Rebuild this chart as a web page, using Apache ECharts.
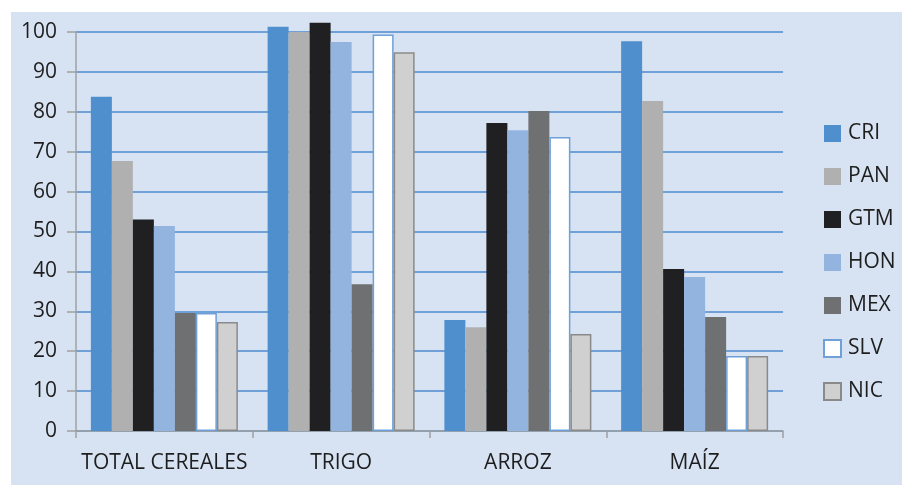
<!DOCTYPE html>
<html>
<head>
<meta charset="utf-8">
<script src="https://cdn.jsdelivr.net/npm/echarts@6/dist/echarts.min.js"></script>
<style>
  html, body { margin: 0; padding: 0; background: #fff; }
  #main { width: 902px; height: 485px; }
</style>
</head>
<body>
<div id="main"></div>
<script>
    // categorias y series
    var categories = ['TOTAL CEREALES', 'TRIGO', 'ARROZ', 'MAÍZ'];
    var countries = ['CRI', 'PAN', 'GTM', 'HON', 'MEX', 'SLV', 'NIC'];
    var cri = [83.8, 101.3, 27.8, 97.7];
    var pan = [67.7, 100.0, 26.0, 82.7];
    var gtm = [53.0, 102.3, 77.2, 40.6];
    var hon = [51.4, 97.5, 75.4, 38.6];
    var mex = [29.6, 36.8, 80.2, 28.6];
    var slv = [29.6, 99.4, 73.7, 18.8];
    var nic = [27.3, 94.9, 24.3, 18.8];
    var yTicks = [0, 10, 20, 30, 40, 50, 60, 70, 80, 90, 100];

    var values = [cri, pan, gtm, hon, mex, slv, nic];
    var styles = [
        { color: '#4f8fcd' },
        { color: '#b0b0b0' },
        { color: '#202022' },
        { color: '#93b4df' },
        { color: '#6f7072' },
        { color: '#ffffff', borderColor: '#6fa0d8', borderWidth: 1.5 },
        { color: '#d0d0d0', borderColor: '#8a8a8a', borderWidth: 1.5 }
    ];

    var chart = echarts.init(document.getElementById('main'));

    var series = countries.map(function (name, i) {
        return {
            name: name,
            type: 'bar',
            data: values[i],
            barWidth: 21,
            barGap: '0%',
            clip: false,
            itemStyle: styles[i]
        };
    });

    var option = {
        animation: false,
        textStyle: { fontFamily: 'Open Sans' },
        graphic: [{
            type: 'rect',
            z: -10,
            shape: { x: 11, y: 12, width: 891, height: 473 },
            style: { fill: '#d7e3f2' }
        }],
        grid: { left: 76, top: 32, right: 119, bottom: 54 },
        legend: {
            orient: 'vertical',
            left: 823,
            top: 123,
            padding: 0,
            itemWidth: 17,
            itemHeight: 17,
            itemGap: 22,
            icon: 'rect',
            data: countries,
            textStyle: { fontSize: 21, color: '#1e1e1e', lineHeight: 20, padding: [0, 0, 0, 2] }
        },
        xAxis: {
            type: 'category',
            data: categories,
            axisLine: { lineStyle: { color: '#a0a0a0', width: 1.5 } },
            axisTick: { show: true, length: 7, lineStyle: { color: '#a0a0a0', width: 1.5 } },
            axisLabel: { interval: 0, fontSize: 21, color: '#1e1e1e', margin: 22 }
        },
        yAxis: {
            type: 'value',
            min: yTicks[0],
            max: yTicks[yTicks.length - 1],
            interval: 10,
            axisLine: { show: true, lineStyle: { color: '#a0a0a0', width: 1.5 } },
            axisTick: { show: true, length: 9, lineStyle: { color: '#a0a0a0', width: 1.5 } },
            axisLabel: { fontSize: 21, color: '#1e1e1e', margin: 19 },
            splitLine: { lineStyle: { color: '#6fa0d8', width: 2 } }
        },
        series: series
    };

    chart.setOption(option);
</script>
</body>
</html>
